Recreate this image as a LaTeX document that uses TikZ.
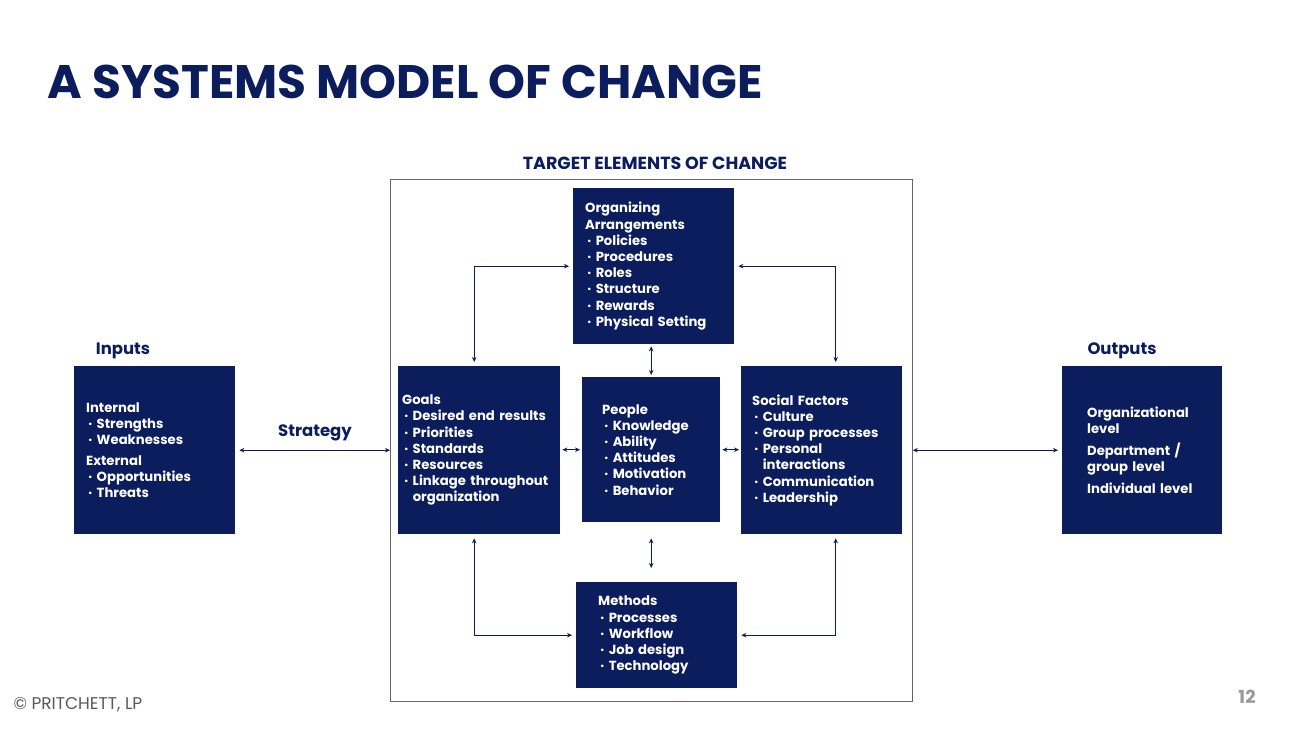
\documentclass[tikz,border=0pt]{standalone}
\usepackage{fontspec}
\setmainfont{Poppins}
\usetikzlibrary{arrows.meta}
\definecolor{navy}{RGB}{12,29,94}
\newcommand\bul{\,·\ }
\begin{document}
\begin{tikzpicture}[x=1pt,y=1pt,yscale=-1,
  blk/.style={fill=navy,text=white,font=\fontsize{13.2}{16.2}\selectfont\bfseries,align=left,anchor=north west,inner ysep=0pt},
  hdr/.style={navy,font=\fontsize{16.5}{18}\selectfont\bfseries},
  lnk/.style={navy,line width=0.7pt,{Stealth[length=5pt,width=4.5pt]}-{Stealth[length=5pt,width=4.5pt]},shorten <=4pt,shorten >=4pt}]
\useasboundingbox (0,0) rectangle (1300,733);
%title
\node[navy,font=\fontsize{47}{50}\selectfont\bfseries,anchor=west] (title) at (44,82) {A SYSTEMS MODEL OF CHANGE};
%frame
\node[draw=gray!80!black,line width=0.8pt,minimum width=522pt,minimum height=522pt,anchor=north west,inner sep=0pt] (frm) at (390,179) {};
\node[hdr,font=\fontsize{17.5}{19}\selectfont\bfseries] (tgt) at (655,163) {TARGET ELEMENTS OF CHANGE};
%blocks
\node[blk,minimum width=161pt,minimum height=168pt,inner xsep=12pt,text width=137pt] (inp) at (74,366)
  {Internal\\\bul Strengths\\\bul Weaknesses\\[4pt]External\\\bul Opportunities\\\bul Threats};
\node[blk,minimum width=161pt,minimum height=156pt,inner xsep=12pt,text width=137pt] (org) at (573,188)
  {Organizing\\Arrangements\\\bul Policies\\\bul Procedures\\\bul Roles\\\bul Structure\\\bul Rewards\\\bul Physical Setting};
\node[blk,minimum width=162pt,minimum height=168pt,inner xsep=4pt,text width=154pt] (goal) at (398,366)
  {Goals\\\bul Desired end results\\\bul Priorities\\\bul Standards\\\bul Resources\\\bul Linkage throughout\\\phantom{\bul}organization};
\node[blk,minimum width=138pt,minimum height=145pt,inner xsep=20pt,text width=98pt] (ppl) at (582,377)
  {People\\\bul Knowledge\\\bul Ability\\\bul Attitudes\\\bul Motivation\\\bul Behavior};
\node[blk,minimum width=161pt,minimum height=168pt,inner xsep=11pt,text width=139pt] (soc) at (741,366)
  {Social Factors\\\bul Culture\\\bul Group processes\\\bul Personal\\\phantom{\bul}interactions\\\bul Communication\\\bul Leadership};
\node[blk,minimum width=161pt,minimum height=106pt,inner xsep=22pt,text width=117pt] (meth) at (576,582)
  {Methods\\\bul Processes\\\bul Workflow\\\bul Job design\\\bul Technology};
\node[blk,minimum width=160pt,minimum height=168pt,inner xsep=25pt,text width=110pt] (out) at (1062,366)
  {Organizational\\level\\[6pt]Department /\\group level\\[6pt]Individual level};
%labels
\node[hdr] (inl) at (123,351) {Inputs};
\node[hdr] (outl) at (1122,351) {Outputs};
\node[hdr] (strat) at (315,433) {Strategy};
%connectors
\draw[lnk,shorten >=0pt] (inp.east) -- (inp.east -| frm.west);
\draw[lnk,shorten <=0pt] (out.west -| frm.east) -- (out.west);
\draw[lnk,shorten <=2pt,shorten >=2pt] (goal.east |- ppl.west) -- (ppl.west);
\draw[lnk,shorten <=2pt,shorten >=2pt] (ppl.east) -- (soc.west |- ppl.east);
\draw[lnk,shorten <=2pt,shorten >=2pt] (org.south -| ppl.north) -- (ppl.north);
\draw[lnk,shorten <=16pt,shorten >=14pt] (ppl.south) -- (meth.north -| ppl.south);
\draw[lnk] ([xshift=-5pt]goal.north) |- (org.west);
\draw[lnk] (org.east) -| ([xshift=14pt]soc.north);
\draw[lnk] ([xshift=-5pt]goal.south) |- (meth.west);
\draw[lnk] ([xshift=14pt]soc.south) |- (meth.east);
%footer
\node[gray!70!black,font=\fontsize{17}{19}\selectfont,anchor=west] (copy) at (10,705) {© PRITCHETT, LP};
\node[gray!80,font=\fontsize{18}{20}\selectfont\bfseries] (pg) at (1247,697) {12};
\end{tikzpicture}
\end{document}
